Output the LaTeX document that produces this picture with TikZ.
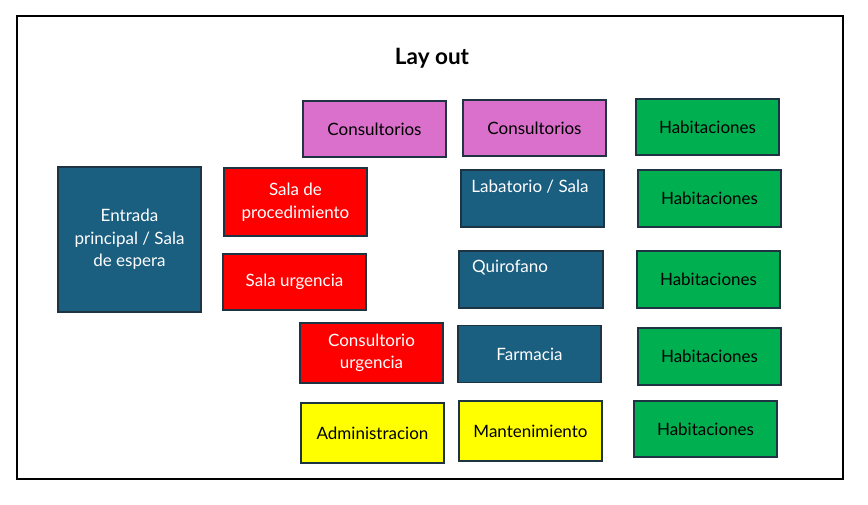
\documentclass[tikz,border=0pt]{standalone}
\usepackage{fontspec}
\setmainfont{Lato}
\definecolor{cblue}{RGB}{26,94,128}
\definecolor{cred}{RGB}{255,0,0}
\definecolor{cpink}{RGB}{218,112,204}
\definecolor{cgreen}{RGB}{0,176,80}
\definecolor{cyel}{RGB}{255,255,0}
\definecolor{cedge}{RGB}{30,52,66}
\tikzset{
  room/.style={draw=cedge, line width=1.6pt, inner sep=0pt, align=center,
    font=\fontsize{17}{22.5}\selectfont},
  lbl/.style={inner sep=0pt, font=\fontsize{17}{22.5}\selectfont, align=center},
}
\begin{document}
\begin{tikzpicture}[x=1pt,y=-1pt]
\useasboundingbox (0,0) rectangle (868,505);
\node[draw=black, line width=1.8pt, minimum width=826, minimum height=463, inner sep=0pt] (frame) at (430,247.5) {};
\node[font=\fontsize{22.5}{26}\selectfont\bfseries, inner sep=0pt] (title) at (432,58) {Lay out};
% boxes
\node[room, fill=cblue, text=white, minimum width=143, minimum height=145] (entrada) at (129.5,239.5) {Entrada\\principal / Sala\\de espera};
\node[room, fill=cpink, text=black, minimum width=143, minimum height=56] (cons1) at (374.5,129) {Consultorios};
\node[room, fill=cpink, text=black, minimum width=143, minimum height=56] (cons2) at (534.5,128) {Consultorios};
\node[room, fill=cgreen, text=black, minimum width=143, minimum height=56] (hab1) at (707.5,127) {Habitaciones};
\node[room, fill=cred, text=white, minimum width=143, minimum height=68] (proc) at (295.5,202) {Sala de\\procedimiento};
\node[room, fill=cblue, minimum width=143, minimum height=57] (lab) at (532.5,198.5) {};
\node[lbl, text=white] (labt) at (530,187) {Labatorio / Sala};
\node[room, fill=cgreen, text=black, minimum width=143, minimum height=57] (hab2) at (709.5,198.5) {Habitaciones};
\node[room, fill=cred, text=white, minimum width=143, minimum height=56] (urg) at (294.5,282) {Sala urgencia};
\node[room, fill=cblue, minimum width=144, minimum height=57] (quir) at (531,279.5) {};
\node[lbl, text=white, anchor=west] (quirt) at (472,268) {Quirofano};
\node[room, fill=cgreen, text=black, minimum width=143, minimum height=57] (hab3) at (708.5,279.5) {Habitaciones};
\node[room, fill=cred, text=white, minimum width=143, minimum height=60] (curg) at (371.5,353) {Consultorio\\urgencia};
\node[room, fill=cblue, text=white, minimum width=143, minimum height=57] (farm) at (529.5,354) {Farmacia};
\node[room, fill=cgreen, text=black, minimum width=143, minimum height=57] (hab4) at (709.5,356.5) {Habitaciones};
\node[room, fill=cyel, text=black, minimum width=143, minimum height=60] (adm) at (372.5,433) {Administracion};
\node[room, fill=cyel, text=black, minimum width=143, minimum height=60] (mant) at (530.5,431) {Mantenimiento};
\node[room, fill=cgreen, text=black, minimum width=143, minimum height=56] (hab5) at (705.5,429) {Habitaciones};
\end{tikzpicture}
\end{document}
